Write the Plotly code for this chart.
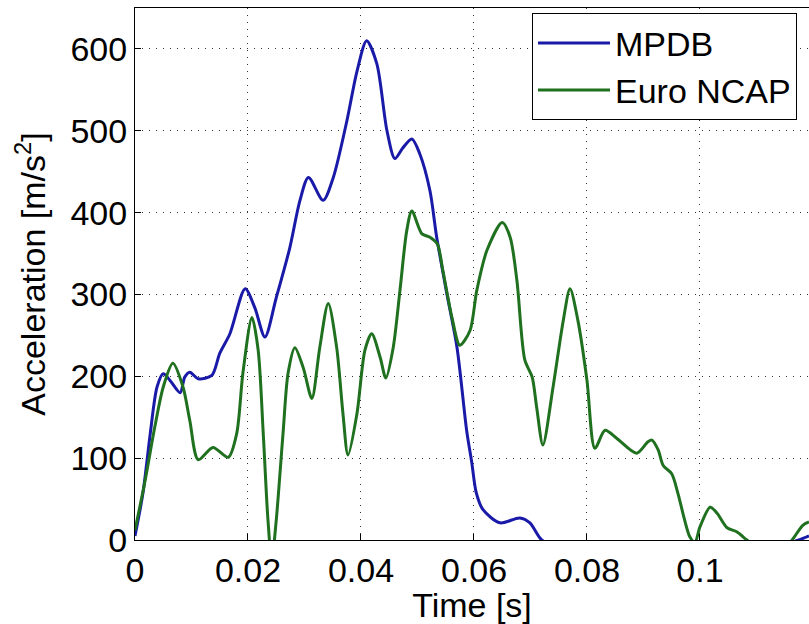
import plotly.graph_objects as go

# MPDB (blue) acceleration trace
mpdb_t = [0.0, 0.0014, 0.0027, 0.0039, 0.0050, 0.0062, 0.0080, 0.0088, 0.0097, 0.0112,
          0.0136, 0.0150, 0.0168, 0.0195, 0.0212, 0.0230, 0.0250, 0.0274, 0.0292, 0.0307,
          0.0333, 0.0351, 0.0375, 0.0393, 0.0410, 0.0428, 0.0446, 0.0460, 0.0474, 0.0490,
          0.0504, 0.0522, 0.0534, 0.0552, 0.0570, 0.0587, 0.0596, 0.0604, 0.0616, 0.0646,
          0.0681, 0.0699, 0.0720, 0.0760, 0.0900, 0.1050, 0.1150, 0.1175, 0.1193]
mpdb_a = [5, 57, 130, 187, 203, 195, 180, 199, 205, 197,
          201, 228, 252, 307, 284, 248, 296, 357, 415, 443,
          415, 443, 512, 573, 610, 582, 500, 466, 479, 490,
          472, 427, 370, 301, 235, 134, 95, 58, 37, 21,
          27, 21, 0, -12, -15, -10, -5, 0, 5]

# Euro NCAP (green) acceleration trace
ncap_t = [0.0, 0.0018, 0.0035, 0.0050, 0.0067, 0.0085, 0.0097, 0.0112, 0.0138, 0.0165,
          0.0180, 0.0191, 0.0207, 0.0218, 0.0227, 0.0235, 0.0242, 0.0250, 0.0262, 0.0271,
          0.0283, 0.0298, 0.0313, 0.0327, 0.0342, 0.0357, 0.0368, 0.0377, 0.0393, 0.0407,
          0.0419, 0.0434, 0.0444, 0.0457, 0.0469, 0.0481, 0.0490, 0.0508, 0.0522, 0.0535,
          0.0545, 0.0561, 0.0575, 0.0593, 0.0605, 0.0623, 0.0650, 0.0664, 0.0676, 0.0690,
          0.0703, 0.0711, 0.0722, 0.0740, 0.0758, 0.0770, 0.0784, 0.0800, 0.0814, 0.0832,
          0.0853, 0.0888, 0.0908, 0.0915, 0.0926, 0.0935, 0.0950, 0.0961, 0.0973, 0.0982,
          0.0991, 0.1000, 0.1018, 0.1030, 0.1048, 0.1065, 0.1083, 0.1110, 0.1140, 0.1163,
          0.1182, 0.1193]
ncap_a = [12, 73, 138, 187, 216, 187, 146, 98, 113, 101,
          130, 204, 272, 232, 130, 28, -25, 24, 130, 204,
          235, 210, 173, 235, 289, 235, 155, 104, 155, 232,
          252, 223, 198, 235, 305, 378, 402, 374, 370, 362,
          329, 272, 238, 256, 305, 354, 388, 370, 317, 220,
          199, 162, 116, 187, 268, 307, 268, 195, 112, 134,
          124, 106, 120, 122, 110, 91, 81, 57, 24, 4,
          -3, 16, 40, 33, 15, 10, 0, -15, -15, 0,
          18, 22]

x_tickvals = [0, 0.02, 0.04, 0.06, 0.08, 0.1]
x_ticktext = ["0", "0.02", "0.04", "0.06", "0.08", "0.1"]
y_tickvals = [0, 100, 200, 300, 400, 500, 600]

FONT = "Liberation Sans, Arial, sans-serif"
FS = 34

fig = go.Figure()
fig.add_trace(go.Scatter(x=mpdb_t, y=mpdb_a, mode="lines", name="MPDB",
                         line=dict(color="#1a1aa8", width=3, shape="spline", smoothing=0.8)))
fig.add_trace(go.Scatter(x=ncap_t, y=ncap_a, mode="lines", name="Euro NCAP",
                         line=dict(color="#1f701f", width=3, shape="spline", smoothing=0.8)))

grid = dict(showgrid=True, gridcolor="#333", griddash="1px,6px", gridwidth=1.2)

fig.update_layout(
    width=809, height=624,
    margin=dict(l=135, r=0, t=8, b=84),
    paper_bgcolor="white", plot_bgcolor="white",
    font=dict(family=FONT, size=FS, color="black"),
    showlegend=True,
    legend=dict(x=0.589, y=0.99, xanchor="left", yanchor="top",
                bgcolor="white", bordercolor="black", borderwidth=1,
                font=dict(size=FS), itemwidth=72, tracegroupgap=0),
    xaxis=dict(range=[0, 0.1193], tickvals=x_tickvals, ticktext=x_ticktext,
               showline=True, linecolor="black", linewidth=1, mirror=True,
               ticks="inside", ticklen=6, tickcolor="black",
               zeroline=False, automargin=False,
               title=dict(text="Time [s]", standoff=0, font=dict(size=FS)), **grid),
    yaxis=dict(range=[0, 650], tickvals=y_tickvals,
               showline=True, linecolor="black", linewidth=1, mirror=False,
               ticks="inside", ticklen=6, tickcolor="black",
               zeroline=False, automargin=False,
               title=dict(text="Acceleration [m/s<sup>2</sup>]", standoff=14, font=dict(size=FS)), **grid),
)

fig.write_html("out.html", config={"displayModeBar": False},
               post_script="document.body.style.margin='0';document.body.style.overflow='hidden';")
